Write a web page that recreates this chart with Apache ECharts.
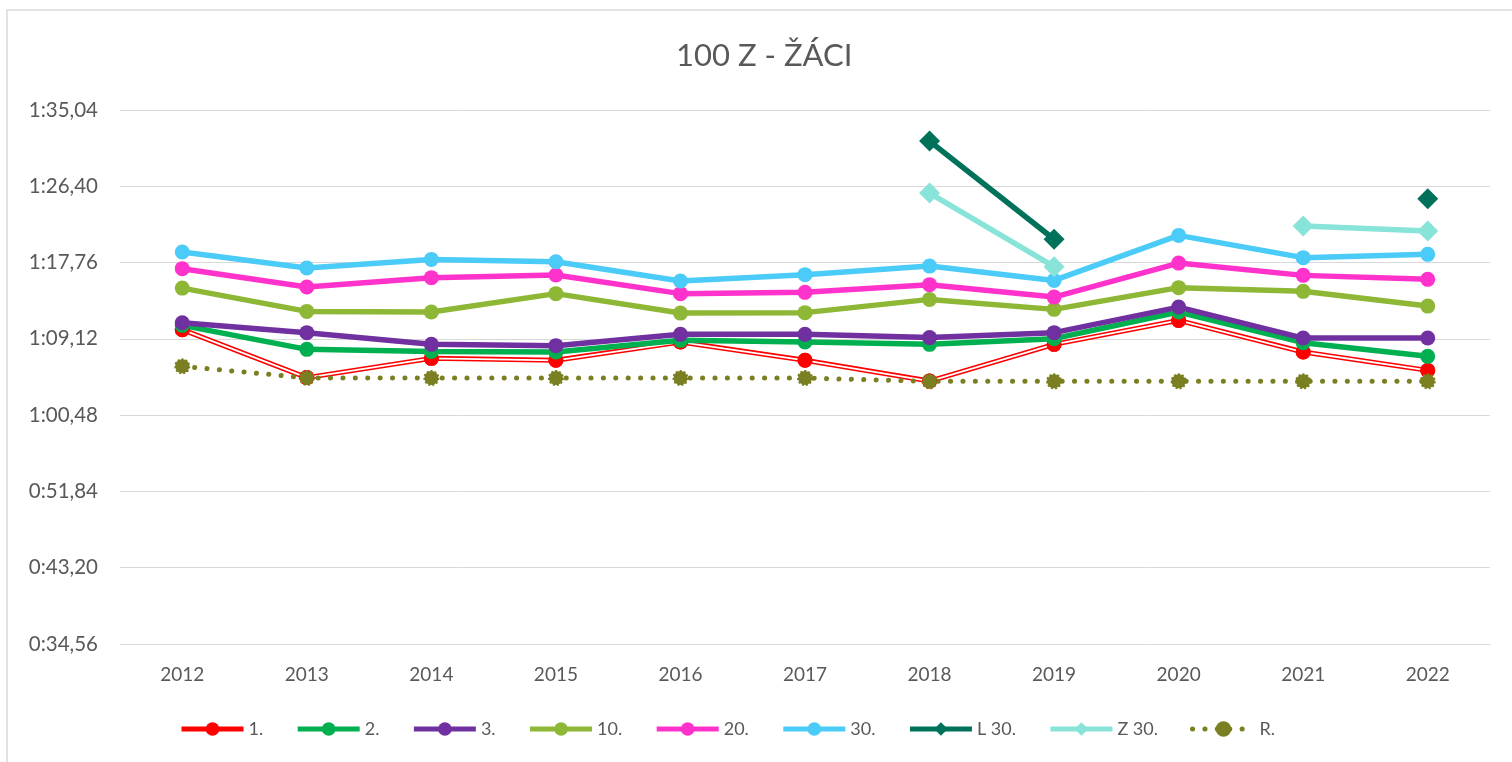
<!DOCTYPE html>
<html>
<head>
<meta charset="utf-8">
<script src="https://cdn.jsdelivr.net/npm/echarts@6/dist/echarts.min.js"></script>
<style>
  html, body { margin: 0; padding: 0; background: #fff; }
  #chart { width: 1512px; height: 762px; }
</style>
</head>
<body>
<div id="chart"></div>
<script>
// times in seconds
const years = ['2012', '2013', '2014', '2015', '2016', '2017', '2018', '2019', '2020', '2021', '2022']
const place1 = [70.16, 64.73, 66.91, 66.69, 68.76, 66.69, 64.34, 68.50, 71.21, 67.63, 65.55]
const place2 = [70.65, 67.93, 67.70, 67.63, 68.95, 68.76, 68.50, 69.14, 72.16, 68.69, 67.14]
const place3 = [70.95, 69.82, 68.50, 68.35, 69.63, 69.63, 69.26, 69.82, 72.72, 69.21, 69.21]
const place10 = [74.87, 72.23, 72.16, 74.24, 72.04, 72.09, 73.59, 72.46, 74.92, 74.50, 72.83]
const place20 = [77.07, 74.99, 76.05, 76.35, 74.24, 74.39, 75.26, 73.85, 77.70, 76.31, 75.86]
const place30 = [78.95, 77.14, 78.12, 77.86, 75.67, 76.39, 77.36, 75.74, 80.84, 78.32, 78.69]
const summer30 = [null, null, null, null, null, null, 91.52, 80.40, null, null, 85.00]
const winter30 = [null, null, null, null, null, null, 85.63, 77.30, null, 81.89, 81.33]
const limitR = [66.01, 64.70, 64.68, 64.68, 64.68, 64.68, 64.31, 64.31, 64.31, 64.31, 64.31]
const legendNames = ['1.', '2.', '3.', '10.', '20.', '30.', 'L 30.', 'Z 30.', 'R.']

const FONT = 'Lato, "Liberation Sans", sans-serif'
const TEXT = '#595959'
const LW = 5.5

function fmtTime(v) {
  const cs = Math.round(v * 100)
  const m = Math.floor(cs / 6000)
  const rest = cs - m * 6000
  const s = Math.floor(rest / 100)
  const c = rest % 100
  return m + ':' + String(s).padStart(2, '0') + ',' + String(c).padStart(2, '0')
}

function dotLine(name, data, color) {
  return {
    name: name,
    type: 'line',
    data: data,
    symbol: 'circle',
    symbolSize: 15,
    showAllSymbol: true,
    itemStyle: { color: color },
    lineStyle: { color: color, width: LW }
  }
}

function diamondLine(name, data, color) {
  return {
    name: name,
    type: 'line',
    data: data,
    symbol: 'diamond',
    symbolSize: 21,
    showAllSymbol: true,
    connectNulls: false,
    itemStyle: { color: color },
    lineStyle: { color: color, width: LW }
  }
}

const chart = echarts.init(document.getElementById('chart'))

chart.setOption({
  animation: false,
  backgroundColor: '#fff',
  textStyle: { fontFamily: FONT },
  title: {
    text: '100 Z - ŽÁCI',
    left: 671,
    top: 35,
    textStyle: { color: TEXT, fontSize: 31, fontWeight: 'normal', fontFamily: FONT }
  },
  graphic: [{
    type: 'rect',
    silent: true,
    shape: { x: 7, y: 10, width: 1540, height: 800 },
    style: { fill: 'none', stroke: '#D9D9D9', lineWidth: 1.5 }
  }],
  legend: {
    data: legendNames,
    bottom: 19,
    left: 174,
    itemWidth: 62,
    itemHeight: 17,
    itemGap: 32,
    lineStyle: { width: 5 },
    textStyle: { color: TEXT, fontSize: 18, fontFamily: FONT }
  },
  grid: { left: 120, right: 22, top: 110, bottom: 118 },
  xAxis: {
    type: 'category',
    data: years,
    boundaryGap: true,
    axisLine: { show: true, lineStyle: { color: '#D9D9D9', width: 1 } },
    axisTick: { show: false },
    axisLabel: { color: TEXT, fontSize: 19, margin: 21, fontFamily: FONT }
  },
  yAxis: {
    type: 'value',
    min: 34.56,
    max: 95.04,
    interval: 8.64,
    axisLine: { show: false },
    axisTick: { show: false },
    splitLine: { lineStyle: { color: '#D9D9D9', width: 1 } },
    axisLabel: { color: TEXT, fontSize: 20.5, margin: 22, fontFamily: FONT, formatter: fmtTime }
  },
  series: [
    // "1." is a double line: red outer stroke, white core, red markers on top
    {
      name: '1.',
      type: 'line',
      data: place1,
      symbol: 'circle',
      symbolSize: 15,
      showAllSymbol: true,
      itemStyle: { color: '#FF0000' },
      lineStyle: { color: '#FF0000', width: 5 }
    },
    {
      name: '1.',
      type: 'line',
      data: place1,
      symbol: 'none',
      silent: true,
      lineStyle: { color: '#FFFFFF', width: 1.8 }
    },
    {
      name: '1.',
      type: 'line',
      data: place1,
      symbol: 'circle',
      symbolSize: 15,
      showAllSymbol: true,
      itemStyle: { color: '#FF0000' },
      lineStyle: { width: 0, opacity: 0 }
    },
    dotLine('2.', place2, '#00B050'),
    dotLine('3.', place3, '#7030A0'),
    dotLine('10.', place10, '#8DB735'),
    dotLine('20.', place20, '#FF33CC'),
    dotLine('30.', place30, '#4BCBF7'),
    diamondLine('L 30.', summer30, '#00725A'),
    diamondLine('Z 30.', winter30, '#88E3D8'),
    {
      name: 'R.',
      type: 'line',
      data: limitR,
      symbol: 'circle',
      symbolSize: 14,
      showAllSymbol: true,
      itemStyle: { color: '#7A7F21', borderColor: '#7A7F21', borderWidth: 2, borderType: 'dotted' },
      lineStyle: { color: '#7A7F21', width: 5, type: [0.1, 12.3], cap: 'round' }
    }
  ]
})
</script>
</body>
</html>
